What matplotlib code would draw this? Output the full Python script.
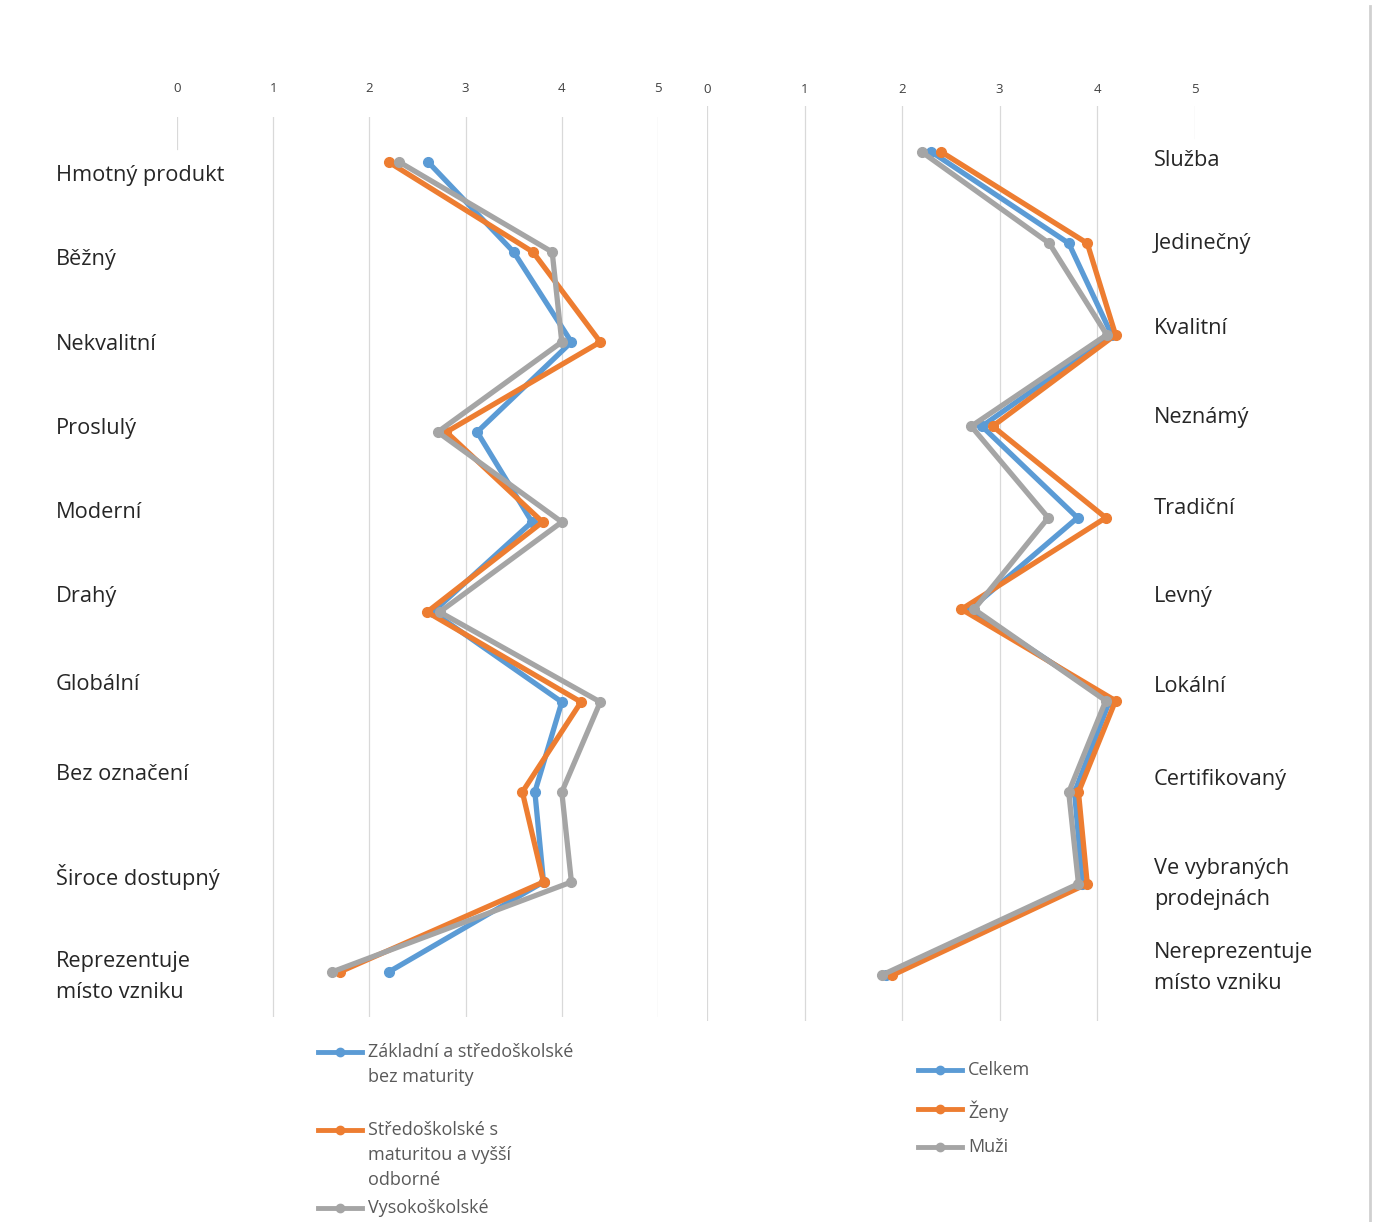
import matplotlib.pyplot as plt
from matplotlib.lines import Line2D
import numpy as np

plt.rcParams['font.family'] = ['Open Sans', 'DejaVu Sans']

# left panel: by education
left_cats = ['Hmotný produkt', 'Běžný', 'Nekvalitní', 'Proslulý', 'Moderní', 'Drahý',
             'Globální', 'Bez označení', 'Široce dostupný', 'Reprezentuje\nmísto vzniku']
edu_names = ['Základní a středoškolské\nbez maturity',
             'Středoškolské s\nmaturitou a vyšší\nodborné',
             'Vysokoškolské']
edu_basic = [2.61, 3.50, 4.10, 3.12, 3.69, 2.66, 4.00, 3.72, 3.81, 2.20]
edu_middle = [2.20, 3.70, 4.40, 2.80, 3.80, 2.60, 4.20, 3.59, 3.81, 1.69]
edu_uni = [2.31, 3.90, 4.00, 2.71, 4.00, 2.73, 4.40, 4.00, 4.10, 1.61]

# right panel: by gender
right_cats = ['Služba', 'Jedinečný', 'Kvalitní', 'Neznámý', 'Tradiční', 'Levný',
              'Lokální', 'Certifikovaný', 'Ve vybraných\nprodejnách',
              'Nereprezentuje\nmísto vzniku']
gender_names = ['Celkem', 'Ženy', 'Muži']
total = [2.30, 3.71, 4.15, 2.82, 3.80, 2.70, 4.13, 3.77, 3.85, 1.84]
women = [2.40, 3.90, 4.19, 2.93, 4.09, 2.61, 4.19, 3.81, 3.90, 1.90]
men = [2.20, 3.51, 4.10, 2.71, 3.50, 2.74, 4.09, 3.71, 3.81, 1.79]

ticks = [0, 1, 2, 3, 4, 5]
colors = ['#5B9BD5', '#ED7D31', '#A5A5A5']

W, H = 1376, 1222
fig = plt.figure(figsize=(W / 100, H / 100), dpi=100)


def px_axes(x0, x1, y0, y1):
    return fig.add_axes([x0 / W, 1 - y1 / H, (x1 - x0) / W, (y1 - y0) / H])


def panel(ax, series, pad, short_tick):
    n = len(series[0])
    ax.set_xlim(0, 5)
    ax.set_ylim(n - 0.5, -0.5)
    for t in ticks:
        if t == short_tick:
            ax.axvline(t, ymin=0.965, ymax=1, color='#D9D9D9', lw=0.9, zorder=0)
        else:
            ax.axvline(t, color='#D9D9D9', lw=0.9, zorder=0)
    for vals, c in zip(series, colors):
        ax.plot(vals, np.arange(n), color=c, lw=3.8, marker='o', ms=7,
                solid_joinstyle='miter', clip_on=False)
    ax.xaxis.tick_top()
    ax.set_xticks(ticks)
    ax.tick_params(axis='x', length=0, pad=pad, labelsize=9.5, labelcolor='#404040')
    ax.set_yticks([])
    for s in ax.spines.values():
        s.set_visible(False)


axL = px_axes(177, 658, 117, 1017)
panel(axL, [edu_basic, edu_middle, edu_uni], 15.5, 0)
axR = px_axes(707, 1194.5, 106, 1021)
panel(axR, [total, women, men], 7.5, 5)

# category labels
left_y = [176, 260, 344, 428, 512, 596, 685, 775, 877, 977]
right_y = [160, 244, 328, 417, 509, 596, 687, 779, 884, 968]
for lab, y in zip(left_cats, left_y):
    fig.text(56 / W, 1 - y / H, lab, ha='left', va='center', fontsize=15.7,
             color='#262626', linespacing=1.62)
for lab, y in zip(right_cats, right_y):
    fig.text(1154 / W, 1 - y / H, lab, ha='left', va='center', fontsize=15.7,
             color='#262626', linespacing=1.62)


def legend_entry(x, y, color, label):
    fig.add_artist(Line2D([x / W, (x + 44) / W], [1 - y / H, 1 - y / H],
                          color=color, lw=3.5, transform=fig.transFigure))
    fig.add_artist(Line2D([(x + 22) / W], [1 - y / H], color=color, marker='o',
                          ms=6, transform=fig.transFigure))
    fig.text((x + 50) / W, 1 - (y - 9) / H, label, ha='left', va='top',
             fontsize=13, color='#595959', linespacing=1.5)


for name, c, y in zip(edu_names, colors, [1052, 1130, 1208]):
    legend_entry(318, y, c, name)
for name, c, y in zip(gender_names, colors, [1070, 1109, 1147]):
    legend_entry(918, y, c, name)

fig.add_artist(Line2D([1370 / W, 1370 / W], [0, 1 - 6 / H], color='#D0D0D0',
                      lw=2, transform=fig.transFigure))

fig.savefig('out.png', dpi=100, facecolor='white')
